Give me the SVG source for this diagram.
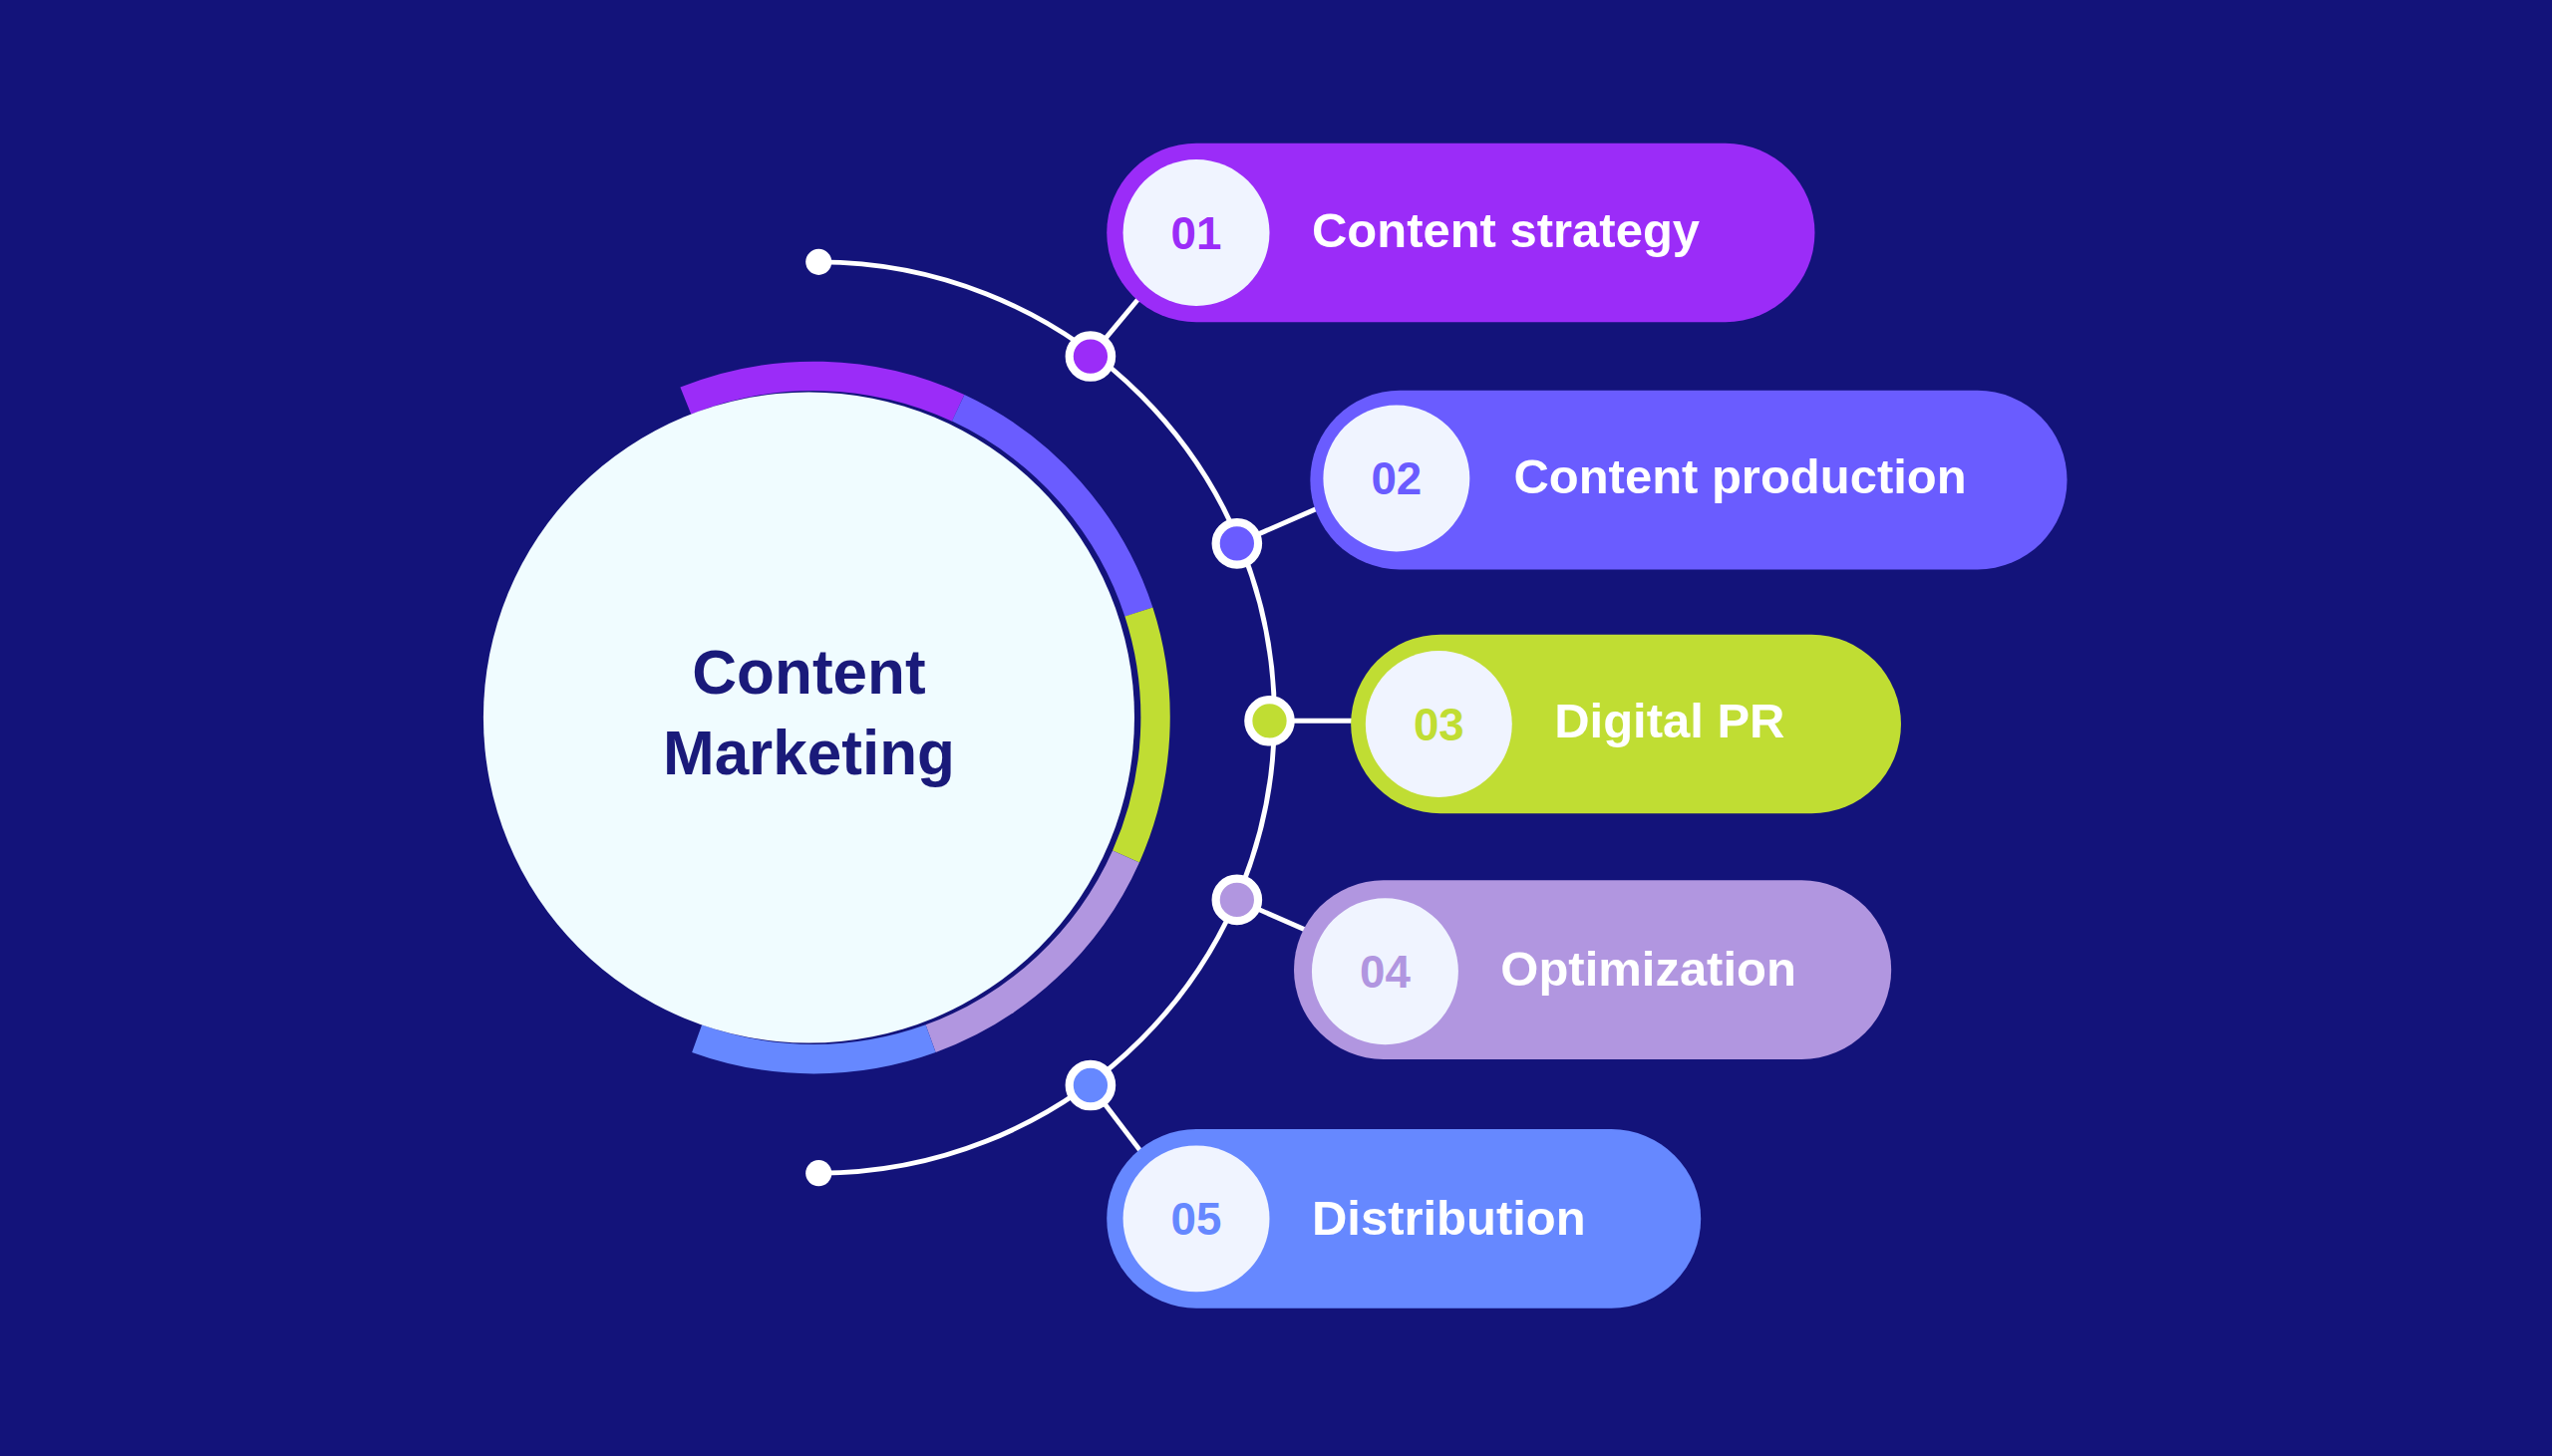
<svg xmlns="http://www.w3.org/2000/svg" width="2560" height="1461" viewBox="0 0 2560 1461">
<style>
.lbl{font-family:"Liberation Sans",Arial,sans-serif;font-weight:bold;font-size:30px;fill:#ffffff}
.num{font-family:"Liberation Sans",Arial,sans-serif;font-weight:bold;font-size:28px;text-anchor:middle}
.ring{fill:none;stroke-width:18}
.conn{stroke:#ffffff;stroke-width:3;fill:none}
.dot{stroke:#ffffff;stroke-width:5}
</style>
<rect width="2560" height="1461" fill="#13137a"/>
<g transform="scale(1.6327)">
<g id="center">
<path class="ring" stroke="#9b2cf8" d="M421.3,246.3 A211,211 0 0 1 588.7,250.7"/>
<path class="ring" stroke="#6a5cff" d="M588.7,250.7 A211,211 0 0 1 699.7,376.1"/>
<path class="ring" stroke="#c0dd33" d="M699.7,376.1 A211,211 0 0 1 691.8,526.4"/>
<path class="ring" stroke="#b196e0" d="M691.8,526.4 A211,211 0 0 1 571.8,638.3"/>
<path class="ring" stroke="#6688ff" d="M571.8,638.3 A211,211 0 0 1 428.2,638.3"/>
<circle cx="497" cy="441" r="200" fill="#f0fcff"/>
<text x="497" y="426" text-anchor="middle" font-family="Liberation Sans,Arial,sans-serif" font-weight="bold" font-size="38" fill="#1a1a7a">Content</text>
<text x="497" y="476" text-anchor="middle" font-family="Liberation Sans,Arial,sans-serif" font-weight="bold" font-size="38" fill="#1a1a7a">Marketing</text>
</g>
<g id="connectors">
<path class="conn" d="M503,161 A280,280 0 0 1 503,721"/>
<circle cx="503" cy="161" r="8" fill="#fff"/>
<circle cx="503" cy="721" r="8" fill="#fff"/>
<line class="conn" x1="670" y1="219" x2="705" y2="177"/>
<line class="conn" x1="760" y1="334" x2="815" y2="310"/>
<line class="conn" x1="780" y1="443" x2="840" y2="443"/>
<line class="conn" x1="760" y1="553" x2="810" y2="575"/>
<line class="conn" x1="670" y1="667" x2="705" y2="713"/>
<circle class="dot" cx="670" cy="219" r="13" fill="#9b2cf8"/>
<circle class="dot" cx="760" cy="334" r="13" fill="#6a5cff"/>
<circle class="dot" cx="780" cy="443" r="13" fill="#c0dd33"/>
<circle class="dot" cx="760" cy="553" r="13" fill="#b196e0"/>
<circle class="dot" cx="670" cy="667" r="13" fill="#6688ff"/>
</g>
<g id="n1">
<rect x="680" y="88" width="435" height="110" rx="55" fill="#9b2cf8"/>
<circle cx="735" cy="143" r="45" fill="#f0f4ff"/>
<text class="num" x="735" y="153" fill="#9b2cf8">01</text>
<text class="lbl" x="806" y="152">Content strategy</text>
</g>
<g id="n2">
<rect x="805" y="240" width="465" height="110" rx="55" fill="#6a5cff"/>
<circle cx="858" cy="294" r="45" fill="#f0f4ff"/>
<text class="num" x="858" y="304" fill="#6a5cff">02</text>
<text class="lbl" x="930" y="303">Content production</text>
</g>
<g id="n3">
<rect x="830" y="390" width="338" height="110" rx="55" fill="#c0dd33"/>
<circle cx="884" cy="445" r="45" fill="#f0f4ff"/>
<text class="num" x="884" y="455" fill="#c0dd33">03</text>
<text class="lbl" x="955" y="453">Digital PR</text>
</g>
<g id="n4">
<rect x="795" y="541" width="367" height="110" rx="55" fill="#b196e0"/>
<circle cx="851" cy="597" r="45" fill="#f0f4ff"/>
<text class="num" x="851" y="607" fill="#b196e0">04</text>
<text class="lbl" x="922" y="606">Optimization</text>
</g>
<g id="n5">
<rect x="680" y="694" width="365" height="110" rx="55" fill="#6688ff"/>
<circle cx="735" cy="749" r="45" fill="#f0f4ff"/>
<text class="num" x="735" y="759" fill="#6688ff">05</text>
<text class="lbl" x="806" y="759">Distribution</text>
</g>
</g>
</svg>
